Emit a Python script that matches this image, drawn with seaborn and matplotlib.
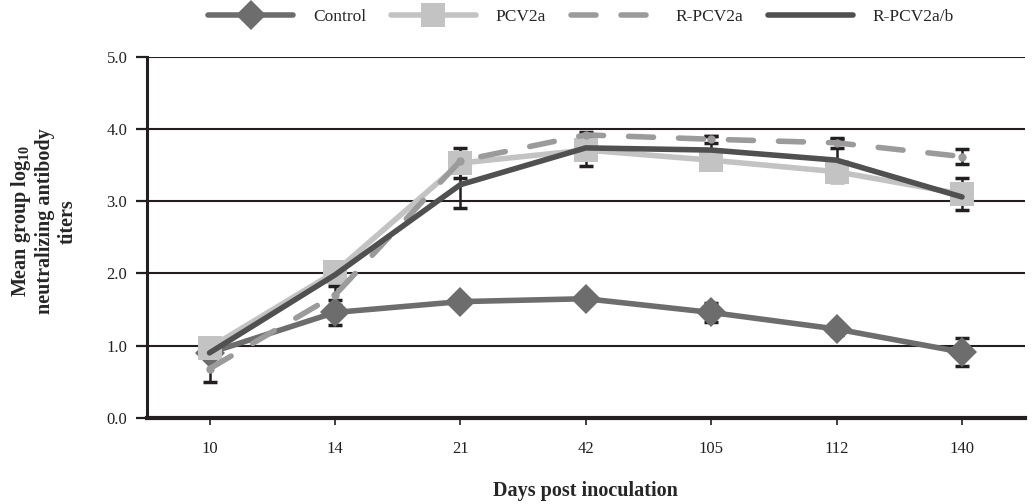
import numpy as np
import pandas as pd
import seaborn as sns
import matplotlib.pyplot as plt

# data
days = ["10", "14", "21", "42", "105", "112", "140"]
control = [0.90, 1.46, 1.61, 1.65, 1.46, 1.23, 0.91]
control_err = [0.00, 0.17, 0.06, 0.04, 0.13, 0.08, 0.19]
pcv2a = [0.97, 2.02, 3.53, 3.71, 3.57, 3.41, 3.10]
pcv2a_err = [0.00, 0.10, 0.21, 0.22, 0.05, 0.05, 0.22]
rpcv2a = [0.68, 1.70, 3.56, 3.92, 3.86, 3.81, 3.62]
rpcv2a_err = [0.18, 0.13, 0.05, 0.04, 0.05, 0.07, 0.10]
rpcv2ab = [0.90, 1.98, 3.23, 3.74, 3.71, 3.57, 3.06]
rpcv2ab_err = [0.00, 0.10, 0.32, 0.05, 0.20, 0.30, 0.05]

groups = ["Control", "PCV2a", "R-PCV2a", "R-PCV2a/b"]
values = [control, pcv2a, rpcv2a, rpcv2ab]
errors = [control_err, pcv2a_err, rpcv2a_err, rpcv2ab_err]

df = pd.concat([
    pd.DataFrame({"pos": np.arange(len(days)), "day": days, "titer": v, "err": e, "group": g})
    for g, v, e in zip(groups, values, errors)
])

sns.set_style("white")
plt.rcParams["font.family"] = ["Liberation Serif", "DejaVu Serif"]
plt.rcParams["mathtext.fontset"] = "custom"
plt.rcParams["mathtext.bf"] = "Liberation Serif:bold"
plt.rcParams["mathtext.rm"] = "Liberation Serif"

fig, ax = plt.subplots(figsize=(10.34, 5.04), dpi=100)
fig.subplots_adjust(left=0.142, right=0.991, bottom=0.171, top=0.887)

# horizontal grid lines
for yv in [1, 2, 3, 4, 5]:
    ax.axhline(yv, color="#231f20", lw=1.5, zorder=0)

styles = {
    "Control": dict(color="#6d6d6d", marker="D", markersize=15, zorder=2),
    "PCV2a": dict(color="#c3c3c3", marker="s", markersize=17, zorder=3),
    "R-PCV2a": dict(color="#9b9b9b", marker="o", markersize=6, zorder=4,
                    dashes=(4.5, 4.5)),
    "R-PCV2a/b": dict(color="#505050", marker=None, zorder=5),
}

# error bars sit under the series marks
for g in groups:
    sub = df[(df["group"] == g) & (df["err"] > 0)]
    ax.errorbar(sub["pos"], sub["titer"], yerr=sub["err"], fmt="none",
                ecolor="#231f20", elinewidth=1.8, capsize=5, capthick=2.5, zorder=1)

for g in groups:
    sub = df[df["group"] == g]
    st = dict(styles[g])
    dashes = st.pop("dashes", None)
    z = st.pop("zorder")
    sns.lineplot(data=sub, x="pos", y="titer", ax=ax, lw=4,
                 markeredgewidth=0, label=g, zorder=z,
                 solid_capstyle="round", dash_capstyle="round", **st)
    if dashes is not None:
        ax.lines[-1].set_dashes(dashes)

ax.set_xlim(-0.5, len(days) - 0.5)
ax.set_ylim(0, 5)
ax.set_xticks(np.arange(len(days)))
ax.set_xticklabels(days)
ax.set_yticks([0, 1, 2, 3, 4, 5])
ax.set_yticklabels(["0.0", "1.0", "2.0", "3.0", "4.0", "5.0"])
ax.tick_params(axis="both", labelsize=12, colors="#231f20")
ax.tick_params(axis="y", direction="out", length=8, width=1.6, left=True, pad=6)
ax.tick_params(axis="x", direction="out", length=5, width=1.2, bottom=True, pad=12)

for s in ["top", "right"]:
    ax.spines[s].set_visible(False)
ax.spines["left"].set_color("#231f20")
ax.spines["left"].set_linewidth(2.2)
ax.spines["bottom"].set_color("#231f20")
ax.spines["bottom"].set_linewidth(3)

ax.set_xlabel("Days post inoculation", fontsize=14.5, fontweight="bold", labelpad=17)
ax.set_ylabel("Mean group log$_{\\mathbf{10}}$\nneutralizing antibody\ntiters",
              fontsize=14.5, fontweight="bold", linespacing=1.15)
ax.yaxis.set_label_coords(-0.079, 0.545)

leg = ax.legend(loc="center", bbox_to_anchor=(0.562, 0.967), bbox_transform=fig.transFigure,
                ncol=4, frameon=False, fontsize=12.5, handlelength=4.9, columnspacing=1.4,
                handletextpad=1.15)
# the dashed series shows no marker in the legend
leg.legend_handles[2].set_marker("")

plt.savefig("out.png", dpi=100)
